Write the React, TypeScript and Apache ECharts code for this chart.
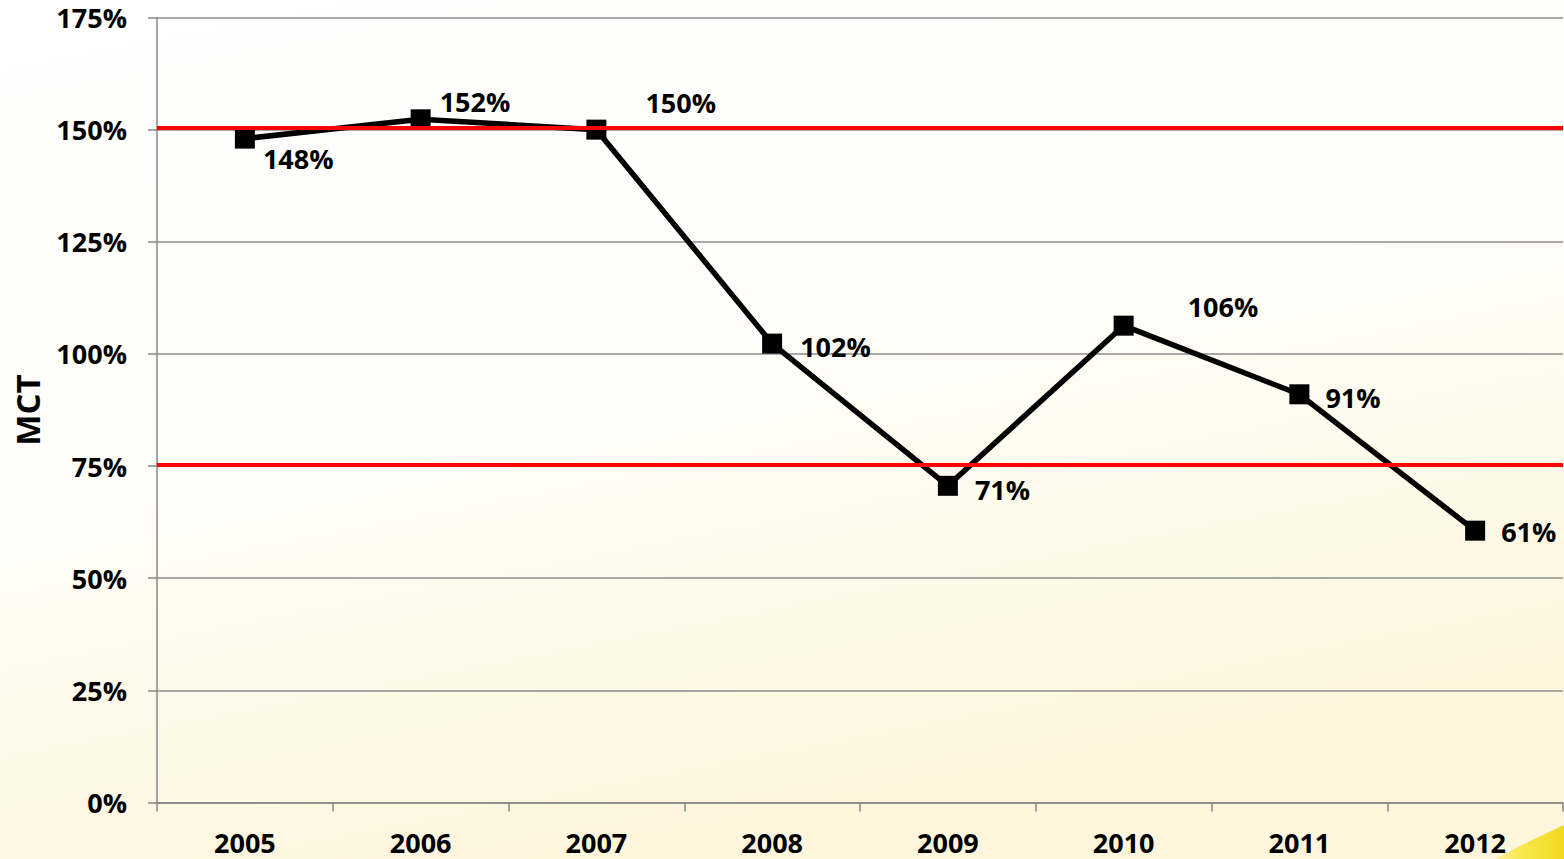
import React, { useEffect, useRef } from "react";
import * as echarts from "echarts";

const years = ["2005", "2006", "2007", "2008", "2009", "2010", "2011", "2012"];
const mctValues = [148.0, 152.3, 150.0, 102.3, 70.6, 106.3, 91.0, 60.6];
const labelOffsets: [number, number][] = [
  [8, 20],
  [9, -18],
  [39, -27],
  [18, 3],
  [17, 4],
  [54, -19],
  [16, 3],
  [16, 1],
];
const limitLines = [150.4, 75.4];
const yTicks = { min: 0, max: 175, interval: 25 };

const FONT = "'Open Sans', 'DejaVu Sans', sans-serif";

export default function App() {
  const ref = useRef<HTMLDivElement>(null);

  useEffect(() => {
    if (!ref.current) return;
    const chart = echarts.init(ref.current, null, { renderer: "svg" });
    chart.setOption({
      animation: false,
      backgroundColor: {
        type: "linear",
        x: 0,
        y: 0,
        x2: 0.35,
        y2: 1,
        colorStops: [
          { offset: 0, color: "#ffffff" },
          { offset: 0.5, color: "#fffefa" },
          { offset: 1, color: "#fdf5dc" },
        ],
      },
      graphic: [
        {
          type: "polygon",
          z: -1,
          silent: true,
          shape: {
            points: [
              [1495, 859],
              [1522, 845],
              [1545, 834],
              [1564, 825],
              [1564, 859],
            ],
          },
          style: {
            fill: {
              type: "linear",
              x: 0,
              y: 0,
              x2: 1,
              y2: 0,
              colorStops: [
                { offset: 0, color: "#fbf0a0" },
                { offset: 0.4, color: "#f7e84a" },
                { offset: 1, color: "#f2d820" },
              ],
            },
          },
        },
      ],
      grid: {
        left: 157,
        right: 1,
        top: 17.5,
        bottom: 56.5,
        containLabel: false,
        outerBoundsMode: "none",
      },
      xAxis: {
        type: "category",
        data: years,
        boundaryGap: true,
        axisLine: { show: true, lineStyle: { color: "#878787", width: 1.5 } },
        axisTick: { show: true, length: 9, alignWithLabel: false, lineStyle: { color: "#878787", width: 1.5 } },
        axisLabel: {
          color: "#000",
          fontFamily: FONT,
          fontWeight: "bold",
          fontSize: 27,
          margin: 26,
        },
        splitLine: { show: false },
      },
      yAxis: {
        type: "value",
        min: yTicks.min,
        max: yTicks.max,
        interval: yTicks.interval,
        name: "MCT",
        nameLocation: "middle",
        nameRotate: 90,
        nameGap: 113,
        nameTextStyle: {
          color: "#000",
          fontFamily: FONT,
          fontWeight: "bold",
          fontSize: 33,
        },
        axisLine: { show: true, lineStyle: { color: "#878787", width: 1.5 } },
        axisTick: { show: true, length: 9, lineStyle: { color: "#878787", width: 1.5 } },
        axisLabel: {
          color: "#000",
          fontFamily: FONT,
          fontWeight: "bold",
          fontSize: 27,
          margin: 30,
          formatter: (v: number) => `${v}%`,
        },
        splitLine: { show: true, lineStyle: { color: "#8c8c8c", width: 1.5 } },
      },
      series: [
        {
          type: "line",
          z: 2,
          data: mctValues.map((v, i) => ({
            value: v,
            label: {
              show: true,
              position: "right",
              distance: 0,
              offset: labelOffsets[i],
              formatter: () => `${Math.round(v)}%`,
              color: "#000",
              fontFamily: FONT,
              fontWeight: "bold",
              fontSize: 27,
            },
          })),
          symbol: "rect",
          symbolSize: 20,
          itemStyle: { color: "#000" },
          lineStyle: { color: "#000", width: 5.5 },
        },
        {
          type: "line",
          z: 5,
          data: [],
          markLine: {
            silent: true,
            symbol: "none",
            label: { show: false },
            lineStyle: { color: "#ff0000", width: 4, type: "solid" },
            data: limitLines.map((y) => ({ yAxis: y })),
          },
        },
      ],
    });
    return () => chart.dispose();
  }, []);

  return (
    <div
      ref={ref}
      style={{ position: "fixed", left: 0, top: 0, width: 1564, height: 859 }}
    />
  );
}
